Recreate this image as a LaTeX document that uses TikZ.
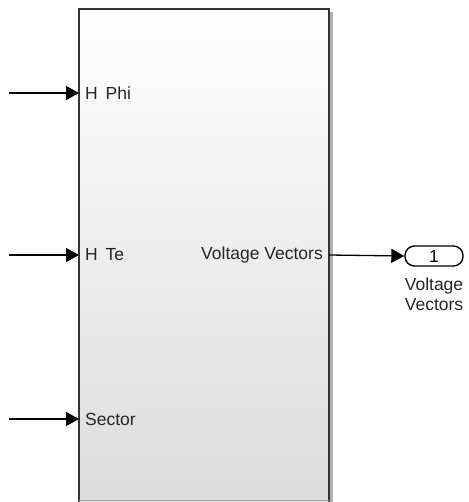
\documentclass[tikz,border=0pt]{standalone}
\usepackage{fontspec}
\setmainfont{Liberation Sans}
\usetikzlibrary{arrows.meta}
\definecolor{blockbot}{HTML}{DCDCDC}
\definecolor{edge}{HTML}{333333}
\tikzset{
  sig/.style={line width=1.3pt, -{Triangle[length=13pt,width=14pt]}},
  lbl/.style={font=\fontsize{17.5}{20}\selectfont, text=black!85, inner sep=0pt},
  port/.style={draw=black, line width=1.4pt, rounded corners=9.5pt, minimum width=58pt, minimum height=20pt, inner sep=0pt, font=\fontsize{17.5}{20}\selectfont}
}
\begin{document}
\begin{tikzpicture}[x=1pt,y=-1pt]
\useasboundingbox (0,0) rectangle (468,502);
% shadow
\fill[black!30] (330,12) rectangle (333,502);
% block
\shade[top color=white, bottom color=blockbot] (79,9) rectangle (329,501);
\draw[edge, line width=1.6pt] (79,502) -- (79,9) -- (329,9) -- (329,502);
\draw[black!35, line width=0.8pt] (79,500.5) -- (329,500.5);
\coordinate (in1) at (79,93);
\coordinate (in2) at (79,255);
\coordinate (in3) at (79,419);
\coordinate (out1) at (329,255);
\coordinate (s1) at (9,93);
\coordinate (s2) at (9,255);
\coordinate (s3) at (9,419);
\node[lbl, anchor=west] (l1) at (85,93) {H\, Phi};
\node[lbl, anchor=west] (l2) at (85,255) {H\, Te};
\node[lbl, anchor=west] (l3) at (85,419) {Sector};
\node[lbl, anchor=east] (lo) at (323,255) {Voltage Vectors};
\node[port] (p) at (434,256) {1};
\node[lbl, align=center, anchor=north] (pl) at (434,278) {Voltage\\Vectors};
\draw[sig] (s1) -- (in1);
\draw[sig] (s2) -- (in2);
\draw[sig] (s3) -- (in3);
\draw[sig] (out1) -- (p.west);
\end{tikzpicture}
\end{document}
